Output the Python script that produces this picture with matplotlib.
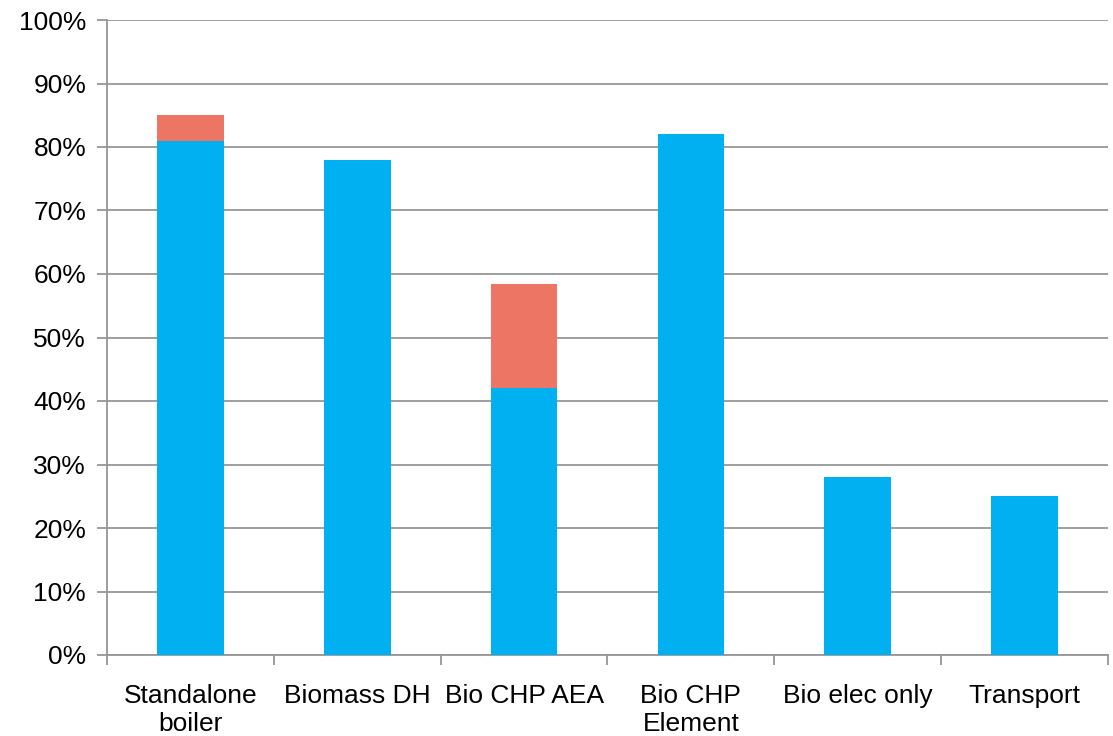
import matplotlib
matplotlib.use("Agg")
import matplotlib.pyplot as plt
import numpy as np

categories = ["Standalone\nboiler", "Biomass DH", "Bio CHP AEA", "Bio CHP\nElement", "Bio elec only", "Transport"]
base_values = [81, 78, 42, 82, 28, 25]
extra_values = [4, 0, 16.5, 0, 0, 0]

plt.rcParams["font.family"] = ["Liberation Sans", "DejaVu Sans"]

fig = plt.figure(figsize=(11.13, 7.36), dpi=100)
ax = fig.add_axes([107 / 1113, 81 / 736, 1001 / 1113, 635 / 736])

x = np.arange(len(categories))
ax.bar(x, base_values, width=0.4, color="#00B0F0", zorder=3)
ax.bar(x, extra_values, width=0.4, bottom=base_values, color="#EC7563", zorder=3)

ax.set_xlim(-0.5, len(categories) - 0.5)
ax.set_ylim(0, 100)
ax.set_yticks(range(0, 101, 10))
ax.set_yticklabels([f"{v}%" for v in range(0, 101, 10)], fontsize=19)
ax.yaxis.grid(True, color="#969696", linewidth=1.3, zorder=0)

ax.set_xticks(np.arange(-0.5, len(categories), 1))
ax.set_xticklabels([])
ax.set_xticks(x, minor=True)
ax.set_xticklabels(categories, minor=True, fontsize=19, linespacing=1.22)
ax.tick_params(axis="x", which="minor", length=0, pad=21)
ax.tick_params(axis="x", which="major", length=7, color="#969696", width=1.3)
ax.tick_params(axis="y", length=7, color="#969696", width=1.3, pad=8)

for side in ["top", "right"]:
    ax.spines[side].set_visible(False)
for side in ["left", "bottom"]:
    ax.spines[side].set_color("#969696")
    ax.spines[side].set_linewidth(1.3)

fig.savefig("out.png", dpi=100)
